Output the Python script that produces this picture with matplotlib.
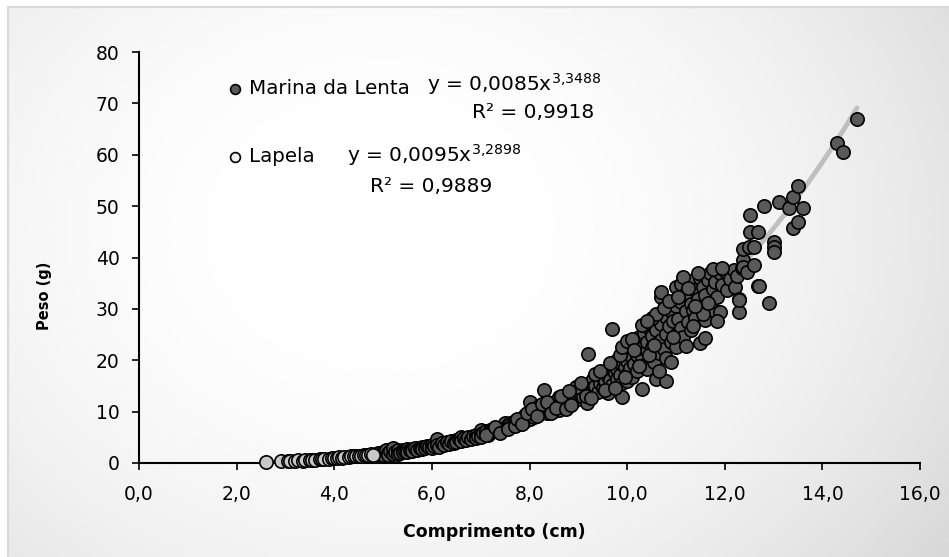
import numpy as np
import matplotlib
matplotlib.use("Agg")
import matplotlib.pyplot as plt
from matplotlib.patches import Rectangle

plt.rcParams['font.family'] = ['DejaVu Sans']
plt.rcParams['mathtext.fontset'] = 'dejavusans'

# Lapela (light markers)
lapela_x = [2.6, 2.9, 3.05, 3.1, 3.2, 3.25, 3.35, 3.4, 3.5, 3.55, 3.6, 3.7, 3.75, 3.8, 3.9, 3.95,
            4.0, 4.05, 4.1, 4.15, 4.2, 4.3, 4.35, 4.4, 4.45, 4.5, 4.55, 4.6, 4.65, 4.7, 4.75, 4.8]
lapela_y = [0.15, 0.35, 0.3, 0.45, 0.4, 0.5, 0.45, 0.55, 0.6, 0.65, 0.6, 0.75, 0.7, 0.8, 0.85, 0.95,
            0.9, 1.0, 1.1, 1.05, 1.15, 1.2, 1.3, 1.35, 1.3, 1.45, 1.4, 1.5, 1.6, 1.55, 1.7, 1.65]

# Marina da Lenta (dark markers)
marina_x = [
    4.85, 4.9, 4.95, 5.0, 5.0, 5.05, 5.1, 5.1, 5.15, 5.2, 5.2, 5.25, 5.3, 5.3, 5.35, 5.4, 5.4,
    5.45, 5.5, 5.5, 5.55, 5.6, 5.6, 5.65, 5.7, 5.75, 5.8, 5.8, 5.85, 5.9, 5.95, 6.0, 6.0,
    6.05, 6.1, 6.1, 6.15, 6.2, 6.25, 6.3, 6.35, 6.4, 6.45, 6.5, 6.5, 6.55, 6.6, 6.6, 6.65,
    6.7, 6.75, 6.8, 6.85, 6.9, 6.9, 6.95, 7.0, 7.0, 7.0,
    7.05, 7.1, 7.15, 7.2, 7.2, 7.25, 7.3, 7.35, 7.4, 7.45, 7.5, 7.5, 7.55, 7.6, 7.6, 7.65,
    7.7, 7.75, 7.8, 7.8, 7.85, 7.9, 7.9, 7.95, 8.0, 8.0, 8.0,
    8.05, 8.1, 8.1, 8.15, 8.2, 8.2, 8.25, 8.3, 8.3, 8.35, 8.4, 8.4, 8.45, 8.5, 8.5, 8.55,
    8.6, 8.6, 8.6, 8.65, 8.7, 8.7, 8.75, 8.8, 8.8, 8.85, 8.9, 8.9, 8.9, 8.95, 9.0, 9.0, 9.0,
    9.05, 9.1, 9.1, 9.15, 9.17, 9.2, 9.2, 9.2, 9.25, 9.3, 9.3, 9.35, 9.4, 9.4, 9.45, 9.5,
    9.5, 9.5, 9.55, 9.6, 9.6, 9.6, 9.65, 9.7, 9.7, 9.7, 9.75, 9.8, 9.8, 9.8, 9.85, 9.9,
    9.9, 9.9, 9.95, 10.0, 10.0, 10.0, 10.0,
    10.05, 10.05, 10.1, 10.1, 10.15, 10.2, 10.2, 10.2, 10.25, 10.3, 10.3, 10.3, 10.35, 10.35,
    10.4, 10.4, 10.4, 10.45, 10.5, 10.5, 10.5, 10.55, 10.55, 10.6, 10.6, 10.6, 10.65, 10.7,
    10.7, 10.7, 10.7, 10.75, 10.8, 10.8, 10.8, 10.85, 10.9, 10.9, 10.95, 11.0, 11.0, 11.0, 11.0,
    11.05, 11.1, 11.1, 11.1, 11.15, 11.2, 11.2, 11.25, 11.3, 11.3, 11.3, 11.35, 11.4, 11.4,
    11.45, 11.5, 11.5, 11.5, 11.55, 11.6, 11.6, 11.65, 11.7, 11.7, 11.75, 11.8, 11.8, 11.85,
    11.9, 11.9, 11.95,
    12.0, 12.05, 12.1, 12.18, 12.2, 12.25, 12.3, 12.3, 12.3, 12.35, 12.38, 12.38, 12.38, 12.45,
    12.49, 12.51, 12.51, 12.6, 12.6, 12.69, 12.69, 12.71, 12.81, 12.9, 13.0, 13.0, 13.0,
    13.11, 13.31, 13.4, 13.4, 13.5, 13.5, 13.6, 14.3, 14.42, 14.71,
    # denser parts of the band
    7.1, 7.3, 7.4, 7.55, 7.7, 7.75, 7.85, 7.95,
    8.05, 8.15, 8.25, 8.35, 8.45, 8.55, 8.65, 8.75, 8.85, 8.95, 8.8,
    9.05, 9.15, 9.25, 9.35, 9.45, 9.55, 9.65, 9.75, 9.85, 9.95, 9.9, 10.0,
    10.1, 10.15, 10.25, 10.3, 10.45, 10.5, 10.6, 10.65, 10.75, 10.8, 10.85, 10.9, 10.95, 10.55, 10.4,
    11.05, 11.15, 11.2, 11.25, 11.35, 11.45, 11.55, 11.65, 11.75, 11.85, 11.95, 11.6, 11.4,
]
marina_y = [
    1.6, 1.9, 1.7, 2.1, 1.6, 2.6, 2.0, 1.5, 2.3, 1.8, 2.9, 2.2, 2.5, 1.7, 2.0, 2.6, 2.2,
    2.4, 2.8, 2.1, 2.5, 2.7, 2.3, 3.0, 2.6, 2.9, 3.2, 2.7, 3.0, 3.3, 3.1, 3.5, 3.0,
    3.3, 4.6, 3.6, 3.2, 3.8, 3.5, 4.0, 3.7, 4.2, 3.9, 4.4, 4.0, 4.6, 5.1, 4.3, 4.8,
    4.5, 5.0, 4.7, 5.2, 5.5, 4.9, 5.3, 6.4, 5.6, 5.0,
    5.8, 6.2, 5.5, 6.4, 6.0, 6.7, 6.3, 6.9, 6.5, 7.2, 7.7, 6.8, 7.3, 7.0, 7.8, 7.5,
    8.1, 7.6, 8.4, 7.9, 8.8, 8.2, 9.3, 8.6, 11.9, 9.0, 8.5,
    9.4, 9.8, 8.9, 10.3, 11.0, 9.5, 10.0, 14.3, 10.6, 9.8, 11.2, 10.4, 10.9, 11.5, 10.2, 12.0,
    12.9, 10.3, 11.3, 11.8, 12.4, 11.0, 12.1, 12.8, 11.6, 13.2, 14.2, 11.9, 12.7, 13.4, 13.9, 12.5, 15.0,
    13.2, 14.4, 12.8, 15.2, 11.6, 21.3, 14.8, 13.5, 15.8, 14.1, 16.3, 15.0, 16.8, 13.8, 15.6, 16.5,
    14.6, 17.4, 15.9, 13.6, 17.0, 18.3, 16.2, 26.0, 19.0, 15.2, 17.6, 18.2, 16.4, 20.1, 17.1, 12.8,
    19.2, 15.6, 18.6, 21.5, 17.3, 19.8, 15.9,
    22.5, 18.4, 20.6, 16.8, 19.2, 23.4, 21.0, 17.9, 24.6, 14.5, 20.2, 22.4, 19.0, 25.3,
    21.8, 23.6, 18.2, 26.2, 22.6, 20.4, 24.8, 27.4, 19.6, 16.3, 23.1, 25.9, 21.4, 32.4,
    33.2, 27.0, 24.0, 22.2, 15.9, 28.4, 25.2, 26.6, 23.5, 29.5, 27.6, 34.3, 25.0, 30.6, 22.6,
    28.1, 34.9, 26.3, 31.4, 24.5, 29.6, 33.1, 27.4, 31.0, 35.4, 25.8, 29.8, 33.6, 28.2,
    31.9, 23.3, 36.0, 30.4, 34.2, 27.8, 32.7, 35.6, 36.9, 30.8, 33.8, 29.5, 35.2, 32.4,
    36.9, 29.4, 34.6,
    37.4, 33.6, 35.8, 37.5, 34.2, 36.4, 29.4, 32.0, 31.8, 38.0, 39.6, 41.6, 38.2, 37.2,
    42.0, 44.9, 48.3, 42.1, 38.5, 44.9, 34.4, 34.4, 50.0, 31.1, 43.1, 42.1, 41.1,
    50.9, 49.7, 51.7, 45.7, 53.9, 46.9, 49.7, 62.3, 60.5, 66.9,
    # denser parts of the band
    5.4, 7.1, 5.9, 6.6, 7.2, 8.6, 7.5, 9.8,
    10.6, 9.1, 11.4, 11.8, 9.7, 10.8, 13.1, 10.6, 11.3, 14.8, 14.0,
    15.6, 13.0, 12.6, 17.4, 18.0, 14.2, 19.4, 14.6, 21.0, 16.8, 22.6, 23.8,
    24.2, 22.0, 18.8, 26.8, 21.0, 28.2, 29.0, 18.0, 30.2, 20.4, 31.6, 19.6, 24.6, 23.0, 27.6,
    32.4, 36.2, 22.8, 34.0, 26.6, 37.0, 29.0, 31.2, 37.8, 27.6, 38.0, 24.4, 30.6,
]

# trend line coefficients shown on the chart (y = a * x^b)
marina_a, marina_b = 0.0085, 3.3488
lapela_a, lapela_b = 0.0095, 3.2898
marina_eq = r'y = 0,0085x$^{3{,}3488}$'
marina_r2 = 'R² = 0,9918'
lapela_eq = r'y = 0,0095x$^{3{,}2898}$'
lapela_r2 = 'R² = 0,9889'

x_ticks = [0, 2, 4, 6, 8, 10, 12, 14, 16]
x_tick_labels = ['0,0', '2,0', '4,0', '6,0', '8,0', '10,0', '12,0', '14,0', '16,0']
y_ticks = [0, 10, 20, 30, 40, 50, 60, 70, 80]

W, H = 949, 557
fig = plt.figure(figsize=(W / 100, H / 100), dpi=100)
fig.patch.set_facecolor('white')

# chart area background: soft radial gradient + thin grey border
bg = fig.add_axes([8 / W, 0, 1 - 8 / W, 1 - 7 / H], zorder=-5)
gx, gy = np.meshgrid(np.linspace(8, W, 300), np.linspace(7, H, 200))
d = np.sqrt(((gx - 380) / 640) ** 2 + ((gy - 230) / 520) ** 2)
shade = 1.0 - 0.13 * np.clip(d, 0, 1.2) ** 2.2
bg.imshow(shade, cmap='gray', vmin=0, vmax=1, aspect='auto', extent=[0, 1, 0, 1])
bg.set_xlim(0, 1)
bg.set_ylim(0, 1)
bg.axis('off')
fig.patches.append(Rectangle((8 / W, -0.01), 1.0, 1 - 7 / H + 0.01, transform=fig.transFigure,
                             fill=False, edgecolor='#d9d9d9', linewidth=1.5, zorder=-4))

ax = fig.add_axes([139 / W, 1 - 463 / H, (920 - 139) / W, (463 - 52) / H])
ax.patch.set_alpha(0)

# trend lines under the markers
mx = np.linspace(min(marina_x), max(marina_x), 200)
ax.plot(mx, marina_a * mx ** marina_b, color='#bfbfbf', lw=3.5, zorder=1, solid_capstyle='round')
lx = np.linspace(min(lapela_x), max(lapela_x), 100)
ax.plot(lx, lapela_a * lx ** lapela_b, color='#bfbfbf', lw=3.5, zorder=1, solid_capstyle='round')

ax.scatter(marina_x, marina_y, s=92, facecolor='#595959', edgecolor='black', linewidth=1.2,
           zorder=3, clip_on=False)
ax.scatter(lapela_x, lapela_y, s=92, facecolor='#c8c8c8', edgecolor='black', linewidth=1.2,
           zorder=4, clip_on=False)

ax.set_xlim(0, 16)
ax.set_ylim(0, 80)
ax.set_xticks(x_ticks)
ax.set_xticklabels(x_tick_labels)
ax.set_yticks(y_ticks)
for s in ['top', 'right']:
    ax.spines[s].set_visible(False)
for s in ['left', 'bottom']:
    ax.spines[s].set_linewidth(1.5)
    ax.spines[s].set_color('black')
    ax.spines[s].set_zorder(2)
ax.tick_params(direction='out', length=5, width=1.2, labelsize=13.5, colors='black')
ax.tick_params(axis='x', pad=11)
ax.tick_params(axis='y', pad=9)

fig.text(45 / W, 1 - 296 / H, 'Peso (g)', rotation=90, ha='center', va='center',
         fontsize=10.5, fontweight='bold')
fig.text(494 / W, 1 - 532 / H, 'Comprimento (cm)', ha='center', va='center',
         fontsize=12.5, fontweight='bold')

# legend entries and equations placed as in the picture
ax_leg = fig.add_axes([0, 0, 1, 1], zorder=6)
ax_leg.set_xlim(0, W)
ax_leg.set_ylim(H, 0)
ax_leg.axis('off')
ax_leg.scatter([235], [89], s=50, facecolor='#595959', edgecolor='black', linewidth=1.2)
ax_leg.scatter([235], [157], s=50, facecolor='#f0f0f0', edgecolor='black', linewidth=1.2)
ax_leg.text(249, 89, 'Marina da Lenta', fontsize=14.3, va='center', ha='left')
ax_leg.text(249, 157, 'Lapela', fontsize=14.3, va='center', ha='left')
ax_leg.text(427, 84, marina_eq, fontsize=14.5, va='center', ha='left')
ax_leg.text(472, 112, marina_r2, fontsize=14.5, va='center', ha='left')
ax_leg.text(347, 155, lapela_eq, fontsize=14.5, va='center', ha='left')
ax_leg.text(370, 186, lapela_r2, fontsize=14.5, va='center', ha='left')

fig.savefig('out.png', dpi=100)
